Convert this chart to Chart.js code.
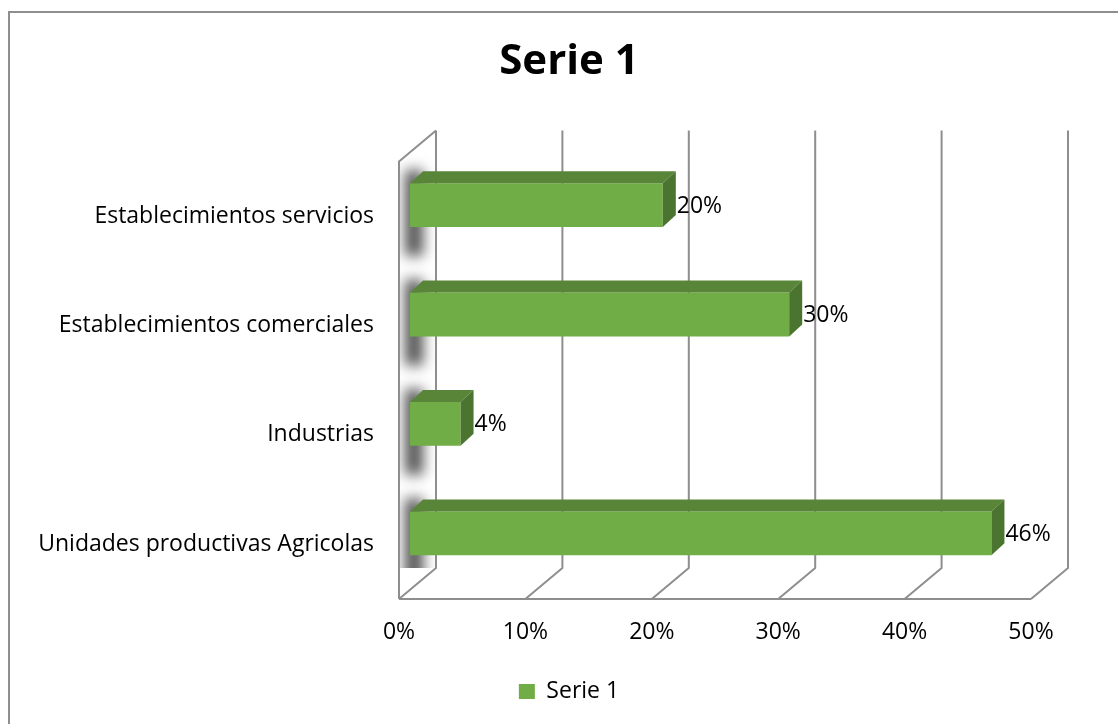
<!DOCTYPE html>
<html>
<head>
<meta charset="utf-8">
<script src="https://cdn.jsdelivr.net/npm/chart.js@4/dist/chart.umd.min.js"></script>
<style>
  html, body { margin: 0; padding: 0; background: #fff; overflow: hidden; }
  #frame { position: absolute; left: 8px; top: 11px; width: 1130px; height: 740px;
           border: 2px solid #8e8e8e; box-sizing: border-box; }
  #wrap { position: absolute; left: 0; top: 0; width: 1138px; height: 724px; }
</style>
</head>
<body>
<div id="frame"></div>
<div id="wrap"><canvas id="c" width="1138" height="724"></canvas></div>
<script>
// categories listed top to bottom as they appear
const categories = [
  'Establecimientos servicios',
  'Establecimientos comerciales',
  'Industrias',
  'Unidades productivas Agricolas',
];
const serie1 = [0.20, 0.30, 0.04, 0.46];
const xTicks = [0, 0.1, 0.2, 0.3, 0.4, 0.5];

const FONT = '"Open Sans", Lato, sans-serif';
const GREEN = '#70ad47', GREEN_TOP = '#588538', GREEN_SIDE = '#4a7430';
const GRID = '#8e8e8e';
const WALL = { dx: 37, dy: -31 };   // depth of the floor / back wall
const BAR_SHIFT = { dx: 11, dy: -11 };
const BAR_DEPTH = { dx: 13, dy: -12 };

const pct = v => Math.round(v * 100) + '%';

// back wall, floor and side wall drawn in pseudo 3D
const walls = {
  id: 'walls',
  beforeDatasetsDraw(chart) {
    const { ctx, chartArea: a, scales: { x } } = chart;
    ctx.save();
    ctx.strokeStyle = GRID;
    ctx.lineWidth = 2;
    ctx.lineJoin = 'round';

    // shadows of the bars on the side wall
    const meta = chart.getDatasetMeta(0);
    ctx.save();
    ctx.beginPath();
    ctx.rect(a.left + 1, a.top + WALL.dy, WALL.dx - 2, a.bottom - a.top);
    ctx.clip();
    ctx.filter = 'blur(7px)';
    ctx.fillStyle = 'rgba(35,35,35,0.8)';
    meta.data.forEach(bar => {
      const p = bar.getProps(['y', 'height'], true);
      ctx.fillRect(a.left + 6, p.y - p.height / 2 - 24, 18, p.height + 42);
    });
    ctx.restore();

    ctx.beginPath();
    xTicks.forEach(v => {
      const px = x.getPixelForValue(v);
      ctx.moveTo(px + WALL.dx, a.top + WALL.dy);
      ctx.lineTo(px + WALL.dx, a.bottom + WALL.dy);
      ctx.lineTo(px, a.bottom);
    });
    // front edge of the floor
    ctx.moveTo(a.left, a.bottom);
    ctx.lineTo(x.getPixelForValue(xTicks[xTicks.length - 1]), a.bottom);
    // side wall
    ctx.moveTo(a.left, a.bottom);
    ctx.lineTo(a.left, a.top);
    ctx.lineTo(a.left + WALL.dx, a.top + WALL.dy);
    ctx.stroke();
    ctx.restore();

    ctx.save();
    ctx.translate(BAR_SHIFT.dx, BAR_SHIFT.dy);
  },
  afterDatasetsDraw(chart) {
    const { ctx } = chart;
    const meta = chart.getDatasetMeta(0);
    meta.data.forEach((bar, i) => {
      const p = bar.getProps(['x', 'y', 'base', 'height'], true);
      const t = p.y - p.height / 2, b = p.y + p.height / 2;
      // top face
      ctx.fillStyle = GREEN_TOP;
      ctx.beginPath();
      ctx.moveTo(p.base, t);
      ctx.lineTo(p.base + BAR_DEPTH.dx, t + BAR_DEPTH.dy);
      ctx.lineTo(p.x + BAR_DEPTH.dx, t + BAR_DEPTH.dy);
      ctx.lineTo(p.x, t);
      ctx.closePath();
      ctx.fill();
      // side face
      ctx.fillStyle = GREEN_SIDE;
      ctx.beginPath();
      ctx.moveTo(p.x, t);
      ctx.lineTo(p.x + BAR_DEPTH.dx, t + BAR_DEPTH.dy);
      ctx.lineTo(p.x + BAR_DEPTH.dx, b + BAR_DEPTH.dy);
      ctx.lineTo(p.x, b);
      ctx.closePath();
      ctx.fill();
      // value label
      ctx.fillStyle = '#000';
      ctx.font = '23px ' + FONT;
      ctx.textAlign = 'left';
      ctx.textBaseline = 'middle';
      ctx.fillText(pct(serie1[i]), p.x + BAR_DEPTH.dx + 1, p.y + 1);
    });
    ctx.restore();
  },
};

new Chart(document.getElementById('c'), {
  type: 'bar',
  data: {
    labels: categories,
    datasets: [{
      label: 'Serie 1',
      data: serie1,
      backgroundColor: GREEN,
      borderWidth: 0,
      barPercentage: 0.4,
      categoryPercentage: 1,
    }],
  },
  options: {
    indexAxis: 'y',
    responsive: false,
    animation: false,
    layout: { padding: { left: 0, right: 0, top: 0, bottom: 11 } },
    plugins: {
      title: {
        display: true, text: 'Serie 1', color: '#000',
        font: { family: FONT, size: 42, weight: 'bold' },
        padding: { top: 37, bottom: 74 },
      },
      legend: {
        position: 'bottom',
        labels: {
          color: '#000', boxWidth: 16, boxHeight: 15, padding: 10,
          font: { family: FONT, size: 23 },
        },
      },
      tooltip: { enabled: false },
    },
    scales: {
      x: {
        min: 0, max: 0.5,
        grid: { display: false, drawTicks: false },
        border: { display: false },
        ticks: { stepSize: 0.1, padding: 20, color: '#000',
                 font: { family: FONT, size: 23 }, callback: v => pct(v) },
        afterFit(s) { s.height = 71; },
      },
      y: {
        grid: { display: false, drawTicks: false },
        border: { display: false },
        ticks: { padding: 25, color: '#000', font: { family: FONT, size: 23 } },
        afterFit(s) { s.width = 399; },
      },
      // empty right axis that keeps room for the 3D depth on the right
      yRight: {
        position: 'right',
        grid: { display: false, drawTicks: false },
        border: { display: false },
        ticks: { display: false },
        afterFit(s) { s.width = 107; },
      },
    },
  },
  plugins: [walls],
});
</script>
</body>
</html>
